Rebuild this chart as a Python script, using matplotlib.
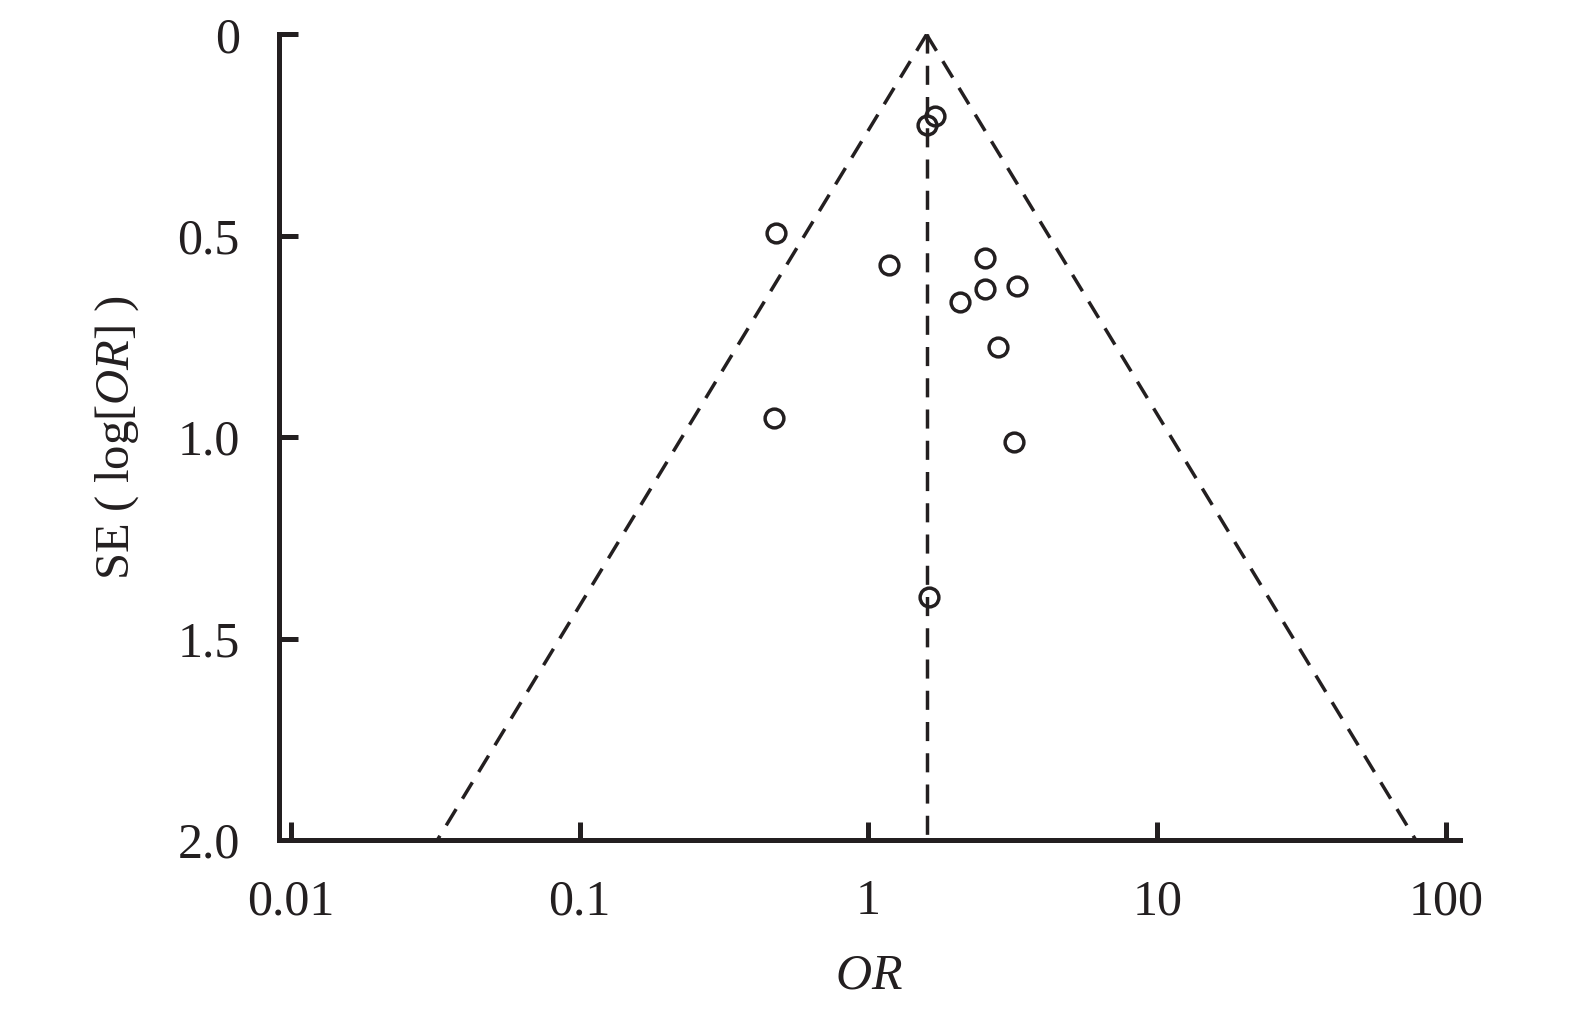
import matplotlib
matplotlib.use('Agg')
import matplotlib.pyplot as plt
import matplotlib.ticker as ticker
import numpy as np

plt.rcParams['font.family'] = ['Liberation Serif', 'DejaVu Serif']
plt.rcParams['mathtext.fontset'] = 'custom'
plt.rcParams['mathtext.rm'] = 'Liberation Serif'
plt.rcParams['mathtext.it'] = 'Liberation Serif:italic'

ink = '#231f20'

# study estimates
odds_ratio = [1.70, 1.59, 0.480, 1.18, 2.54, 3.28, 2.54, 2.08, 2.82, 0.472, 3.18, 1.62]
std_err = [0.203, 0.226, 0.493, 0.573, 0.556, 0.625, 0.633, 0.664, 0.777, 0.953, 1.012, 1.396]
pooled_or = 1.59

x_ticks = [0.01, 0.1, 1, 10, 100]
x_tick_labels = ['0.01', '0.1', '1', '10', '100']
y_ticks = [0, 0.5, 1.0, 1.5, 2.0]
y_tick_labels = ['0', '0.5', '1.0', '1.5', '2.0']

fig = plt.figure(figsize=(15.75, 10.14), dpi=100)
ax = fig.add_axes([0.177, 0.1716, 0.75, 0.7944])

# pseudo 95% confidence limits
se_line = np.array([0.0, 2.0])
lower = np.exp(np.log(pooled_or) - 1.95 * se_line)
upper = np.exp(np.log(pooled_or) + 1.95 * se_line)
dash = (0, (5.5, 3.5))
ax.plot(lower, se_line, color=ink, lw=2.5, linestyle=dash)
ax.plot(upper, se_line, color=ink, lw=2.5, linestyle=dash)
ax.plot([pooled_or, pooled_or], se_line, color=ink, lw=2.5, linestyle=dash)

ax.plot(odds_ratio, std_err, linestyle='none', marker='o', ms=13.5,
        mfc='none', mec=ink, mew=2.5)

ax.set_xscale('log')
ax.set_xlim(0.00909, 111.8)
ax.set_ylim(2.0, 0)

ax.xaxis.set_major_locator(ticker.FixedLocator(x_ticks))
ax.xaxis.set_minor_locator(ticker.NullLocator())
ax.set_xticklabels(x_tick_labels)
ax.set_yticks(y_ticks)
ax.set_yticklabels(y_tick_labels)

for side in ['top', 'right']:
    ax.spines[side].set_visible(False)
for side in ['left', 'bottom']:
    ax.spines[side].set_linewidth(3.6)
    ax.spines[side].set_color(ink)

ax.tick_params(axis='x', direction='in', length=13, width=3.6, color=ink,
               labelsize=36, labelcolor=ink, pad=28)
ax.tick_params(axis='y', direction='in', length=14, width=3.6, color=ink,
               labelsize=36, labelcolor=ink, pad=28)

ax.set_xlabel(r'$\mathit{OR}$', fontsize=36, color=ink, labelpad=20)
ax.set_ylabel(r'SE ( log[$\mathit{OR}$] )', fontsize=35, color=ink, labelpad=26)

fig.savefig('out.png', dpi=100)
